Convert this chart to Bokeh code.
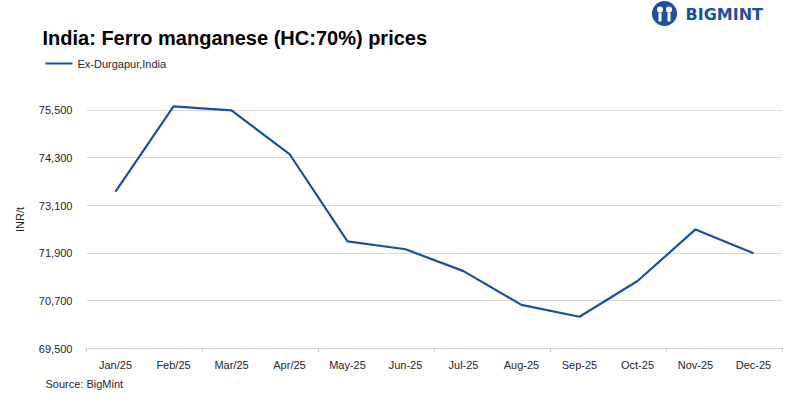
from bokeh.plotting import figure
from bokeh.models import FixedTicker, Range1d
from bokeh.layouts import column
from bokeh.core.properties import value
from bokeh.embed import file_html
from bokeh.resources import INLINE

months = ["Jan/25", "Feb/25", "Mar/25", "Apr/25", "May-25", "Jun-25",
          "Jul-25", "Aug-25", "Sep-25", "Oct-25", "Nov-25", "Dec-25"]
prices = [73450, 75600, 75500, 74400, 72200, 72000,
          71450, 70600, 70300, 71200, 72500, 71900]
y_ticks = [69500, 70700, 71900, 73100, 74300, 75500]
series_name = "Ex-Durgapur,India"
title_text = "India: Ferro manganese (HC:70%) prices"
source_text = "Source: BigMint"
y_label = "INR/t"
logo_text = "BIGMINT"

LINE = "#1552a6"
LOGO = "#1a4fa3"
FONT = "Liberation Sans"
TXT = "#262626"
W = 800
HEAD_H, MAIN_H, FOOT_H = 90, 284, 25


def no_align(f):
    if "frame_align" in f.properties():
        f.frame_align = False


def blank(h):
    f = figure(width=W, height=h, output_backend="svg", toolbar_location=None,
               x_range=Range1d(0, W), y_range=Range1d(h, 0),
               x_axis_type=None, y_axis_type=None,
               min_border=0, min_border_left=0, min_border_right=0,
               min_border_top=0, min_border_bottom=0)
    f.outline_line_color = None
    f.grid.visible = False
    f.background_fill_color = "white"
    f.border_fill_color = "white"
    no_align(f)
    return f


# ---------- header ----------
head = blank(HEAD_H)
head.text(x=[42], y=[37], text=[title_text], text_font=value(FONT),
          text_font_size="20px", text_font_style="bold", text_color="#000000",
          text_baseline="middle")
head.line(x=[45, 72], y=[63, 63], line_color=LINE, line_width=2.2)
head.text(x=[77], y=[63], text=[series_name], text_font=value(FONT),
          text_font_size="11px", text_color=TXT, text_baseline="middle")
# logo
head.scatter(x=[664], y=[13], size=25, marker="circle", fill_color=LOGO,
             line_color=None)
head.scatter(x=[659.5, 668.5], y=[9, 9], size=6, marker="circle",
             fill_color="white", line_color=None)
head.segment(x0=[659.5, 668.5], y0=[12, 12], x1=[659.5, 668.5], y1=[21, 21],
             line_color="white", line_width=3)
head.text(x=[685], y=[14], text=[logo_text], text_font=value("DejaVu Sans"),
          text_font_size="16px", text_font_style="bold", text_color=LOGO,
          text_baseline="middle")

# ---------- main ----------
p = figure(width=W, height=MAIN_H, output_backend="svg", toolbar_location=None,
           x_range=Range1d(0, len(months)), y_range=Range1d(69500, 76000),
           min_border_left=86, min_border_right=18, min_border_top=0,
           min_border_bottom=26)
p.outline_line_color = None
p.background_fill_color = "white"
p.border_fill_color = "white"
no_align(p)

xs = [i + 0.5 for i in range(len(months))]
p.line(xs, prices, line_color=LINE, line_width=2.2)

xa = p.xaxis[0]
xa.ticker = FixedTicker(ticks=xs, minor_ticks=list(range(0, len(months) + 1, 2)))
xa.major_label_overrides = {x: m for x, m in zip(xs, months)}
xa.major_tick_in = 0
xa.major_tick_out = 0
xa.minor_tick_in = 0
xa.minor_tick_out = 4
xa.minor_tick_line_color = "#d0d0d0"
xa.axis_line_color = "#d0d0d0"
xa.major_label_text_font = FONT
xa.major_label_text_font_size = "11px"
xa.major_label_text_color = TXT
xa.major_label_standoff = 6
p.xgrid.grid_line_color = None

ya = p.yaxis[0]
ya.ticker = FixedTicker(ticks=y_ticks)
ya.major_label_overrides = {t: f"{t:,}" for t in y_ticks}
ya.axis_line_color = None
ya.major_tick_line_color = None
ya.minor_tick_line_color = None
ya.major_label_text_font = FONT
ya.major_label_text_font_size = "11px"
ya.major_label_text_color = TXT
ya.major_label_standoff = 8
ya.axis_label = y_label
ya.axis_label_text_font = FONT
ya.axis_label_text_font_size = "11px"
ya.axis_label_text_font_style = "normal"
ya.axis_label_text_color = TXT
ya.axis_label_standoff = 10
p.ygrid.grid_line_color = "#d9d9d9"
p.ygrid.grid_line_width = 1

# ---------- footer ----------
foot = blank(FOOT_H)
foot.text(x=[45], y=[9], text=[source_text], text_font=value(FONT),
          text_font_size="11px", text_color=TXT, text_baseline="middle")

layout = column(head, p, foot, spacing=0)
open("out.html", "w").write(file_html(layout, INLINE))
